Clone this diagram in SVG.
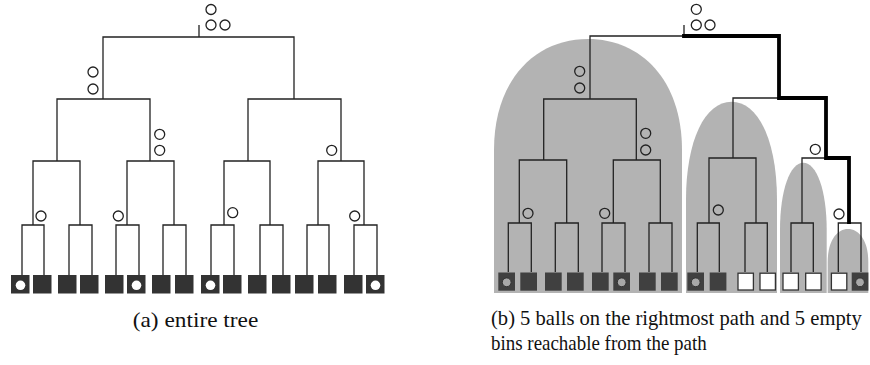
<svg xmlns="http://www.w3.org/2000/svg" width="870" height="365" viewBox="0 0 870 365">
<style>
.ln{fill:none;stroke:#222;stroke-width:1.3}
.thick{fill:none;stroke:#000;stroke-width:3.8;stroke-linejoin:miter;stroke-linecap:square}
.ball{fill:none;stroke:#222;stroke-width:1.3}
.binL{fill:#333}
.binR{fill:#404040}
.empty{fill:#fff;stroke:#333;stroke-width:1.3}
.lb{fill:#fff}
.gb{fill:#a8a8a8;stroke:#333;stroke-width:1}
.blob{fill:#b3b3b3}
</style>
<rect width="870" height="365" fill="#fff"/>
<g id="blobs">
<path class="blob" d="M494,293 V150 C494,80 535,39 588,39 C641,39 682,80 682,150 V293 Z"/>
<path class="blob" d="M686,293 V200 C686,140 705,101.7 731.5,101.7 C758,101.7 777,140 777,200 V293 Z"/>
<path class="blob" d="M780,293 V230 C780,190 790,162.7 803.3,162.7 C816.6,162.7 826.7,190 826.7,230 V293 Z"/>
<path class="blob" d="M827.7,293 V262 C827.7,242 836,229 848,229 C860,229 868.3,242 868.3,262 V293 Z"/>
</g>
<g id="connectors">
<path class="ln" d="M199,25 V37 M103,99 V37 H294 V99 M57,161 V99 H150 V161 M248,161 V99 H341 V161 M33,225 V161 H80 V225 M127,225 V161 H174 V225 M224,225 V161 H270 V225 M318,225 V161 H364 V225 M22,275 V225 H44 V275 M69,275 V225 H92 V275 M116,275 V225 H139 V275 M163,275 V225 H186 V275 M211,275 V225 H234 V275 M260,275 V225 H283 V275 M307,275 V225 H329 V275 M354,275 V225 H377 V275"/>
<path class="ln" d="M684,25 V36 M590,99 V36 H684 M543.7,160 V99 H636.3 V160 M733,158 V98 H779 M709,223 V158 H756 V223 M802,223 V158 H826 M519.3,223 V160 H566.7 V223 M613.3,223 V160 H660.3 V223 M508.3,272 V223 H531.3 V272 M555.3,272 V223 H578.3 V272 M602,272 V223 H625 V272 M649,272 V223 H672 V272 M697.3,272 V223 H719.3 V272 M745,272 V223 H767.3 V272 M791,272 V223 H813.3 V272 M838.3,272 V223 H861 V272"/>
<path class="thick" d="M684,36 H779 V98 H826 V158 H849 V222"/>
</g>
<g id="bins-a">
<rect class="binL" x="11" y="275" width="18.5" height="18.5"/>
<rect class="binL" x="33" y="275" width="18.5" height="18.5"/>
<rect class="binL" x="58" y="275" width="18.5" height="18.5"/>
<rect class="binL" x="80" y="275" width="18.5" height="18.5"/>
<rect class="binL" x="105" y="275" width="18.5" height="18.5"/>
<rect class="binL" x="127" y="275" width="18.5" height="18.5"/>
<rect class="binL" x="152" y="275" width="18.5" height="18.5"/>
<rect class="binL" x="175" y="275" width="18.5" height="18.5"/>
<rect class="binL" x="201" y="275" width="18.5" height="18.5"/>
<rect class="binL" x="223" y="275" width="18.5" height="18.5"/>
<rect class="binL" x="248" y="275" width="18.5" height="18.5"/>
<rect class="binL" x="272" y="275" width="18.5" height="18.5"/>
<rect class="binL" x="295" y="275" width="18.5" height="18.5"/>
<rect class="binL" x="318" y="275" width="18.5" height="18.5"/>
<rect class="binL" x="344" y="275" width="18.5" height="18.5"/>
<rect class="binL" x="366" y="275" width="18.5" height="18.5"/>
<circle class="lb" cx="20.5" cy="285.3" r="4.8"/>
<circle class="lb" cx="136.5" cy="285.3" r="4.8"/>
<circle class="lb" cx="210.5" cy="285.3" r="4.8"/>
<circle class="lb" cx="375.5" cy="285.3" r="4.8"/>
</g>
<g id="bins-b">
<rect class="binR" x="498.3" y="272.5" width="16.7" height="18.2"/>
<rect class="binR" x="520.3" y="272.5" width="16.7" height="18.2"/>
<rect class="binR" x="545" y="272.5" width="16.7" height="18.2"/>
<rect class="binR" x="567" y="272.5" width="16.7" height="18.2"/>
<rect class="binR" x="592" y="272.5" width="16.7" height="18.2"/>
<rect class="binR" x="613.3" y="272.5" width="16.7" height="18.2"/>
<rect class="binR" x="639" y="272.5" width="16.7" height="18.2"/>
<rect class="binR" x="661" y="272.5" width="16.7" height="18.2"/>
<rect class="binR" x="687.3" y="272.5" width="16.7" height="18.2"/>
<rect class="binR" x="709.7" y="272.5" width="16.7" height="18.2"/>
<rect class="empty" x="738" y="273.2" width="15.4" height="16.8"/>
<rect class="empty" x="760" y="273.2" width="15.4" height="16.8"/>
<rect class="empty" x="783" y="273.2" width="15.4" height="16.8"/>
<rect class="empty" x="805.7" y="273.2" width="15.4" height="16.8"/>
<rect class="empty" x="831.4" y="273.2" width="15.4" height="16.8"/>
<rect class="binR" x="851.7" y="272.5" width="16.7" height="18.2"/>
<circle class="gb" cx="506.7" cy="282.3" r="4.4"/>
<circle class="gb" cx="621.7" cy="282.3" r="4.4"/>
<circle class="gb" cx="695.7" cy="282.3" r="4.4"/>
<circle class="gb" cx="860" cy="282.3" r="4.4"/>
</g>
<g id="balls-a">
<circle class="ball" cx="211" cy="9.5" r="5"/>
<circle class="ball" cx="211" cy="25" r="5"/>
<circle class="ball" cx="225" cy="25" r="5"/>
<circle class="ball" cx="93" cy="72" r="5"/>
<circle class="ball" cx="93" cy="89" r="5"/>
<circle class="ball" cx="159.7" cy="134.3" r="5"/>
<circle class="ball" cx="159.7" cy="150.3" r="5"/>
<circle class="ball" cx="331.7" cy="150.3" r="5"/>
<circle class="ball" cx="41" cy="216" r="5"/>
<circle class="ball" cx="118.3" cy="216" r="5"/>
<circle class="ball" cx="232.7" cy="212.7" r="5"/>
<circle class="ball" cx="354.7" cy="216" r="5"/>
</g>
<g id="balls-b">
<circle class="ball" cx="696.3" cy="9.3" r="5"/>
<circle class="ball" cx="696.3" cy="25" r="5"/>
<circle class="ball" cx="710" cy="25" r="5"/>
<circle class="ball" cx="579.7" cy="71.3" r="5"/>
<circle class="ball" cx="579.7" cy="88" r="5"/>
<circle class="ball" cx="645.7" cy="133.3" r="5"/>
<circle class="ball" cx="645.7" cy="150" r="5"/>
<circle class="ball" cx="815.3" cy="149.3" r="5"/>
<circle class="ball" cx="528" cy="213.3" r="5"/>
<circle class="ball" cx="604.7" cy="213.3" r="5"/>
<circle class="ball" cx="718.3" cy="210" r="5"/>
<circle class="ball" cx="839" cy="214" r="5"/>
</g>
<g id="captions" font-family="Liberation Serif, DejaVu Serif, serif" font-size="22" fill="#111">
<text x="132.7" y="327.2" textLength="125.6" lengthAdjust="spacingAndGlyphs">(a) entire tree</text>
<text x="491" y="324.5" textLength="370.7" lengthAdjust="spacingAndGlyphs">(b) 5 balls on the rightmost path and 5 empty</text>
<text x="491" y="350" textLength="215.7" lengthAdjust="spacingAndGlyphs">bins reachable from the path</text>
</g>
</svg>
